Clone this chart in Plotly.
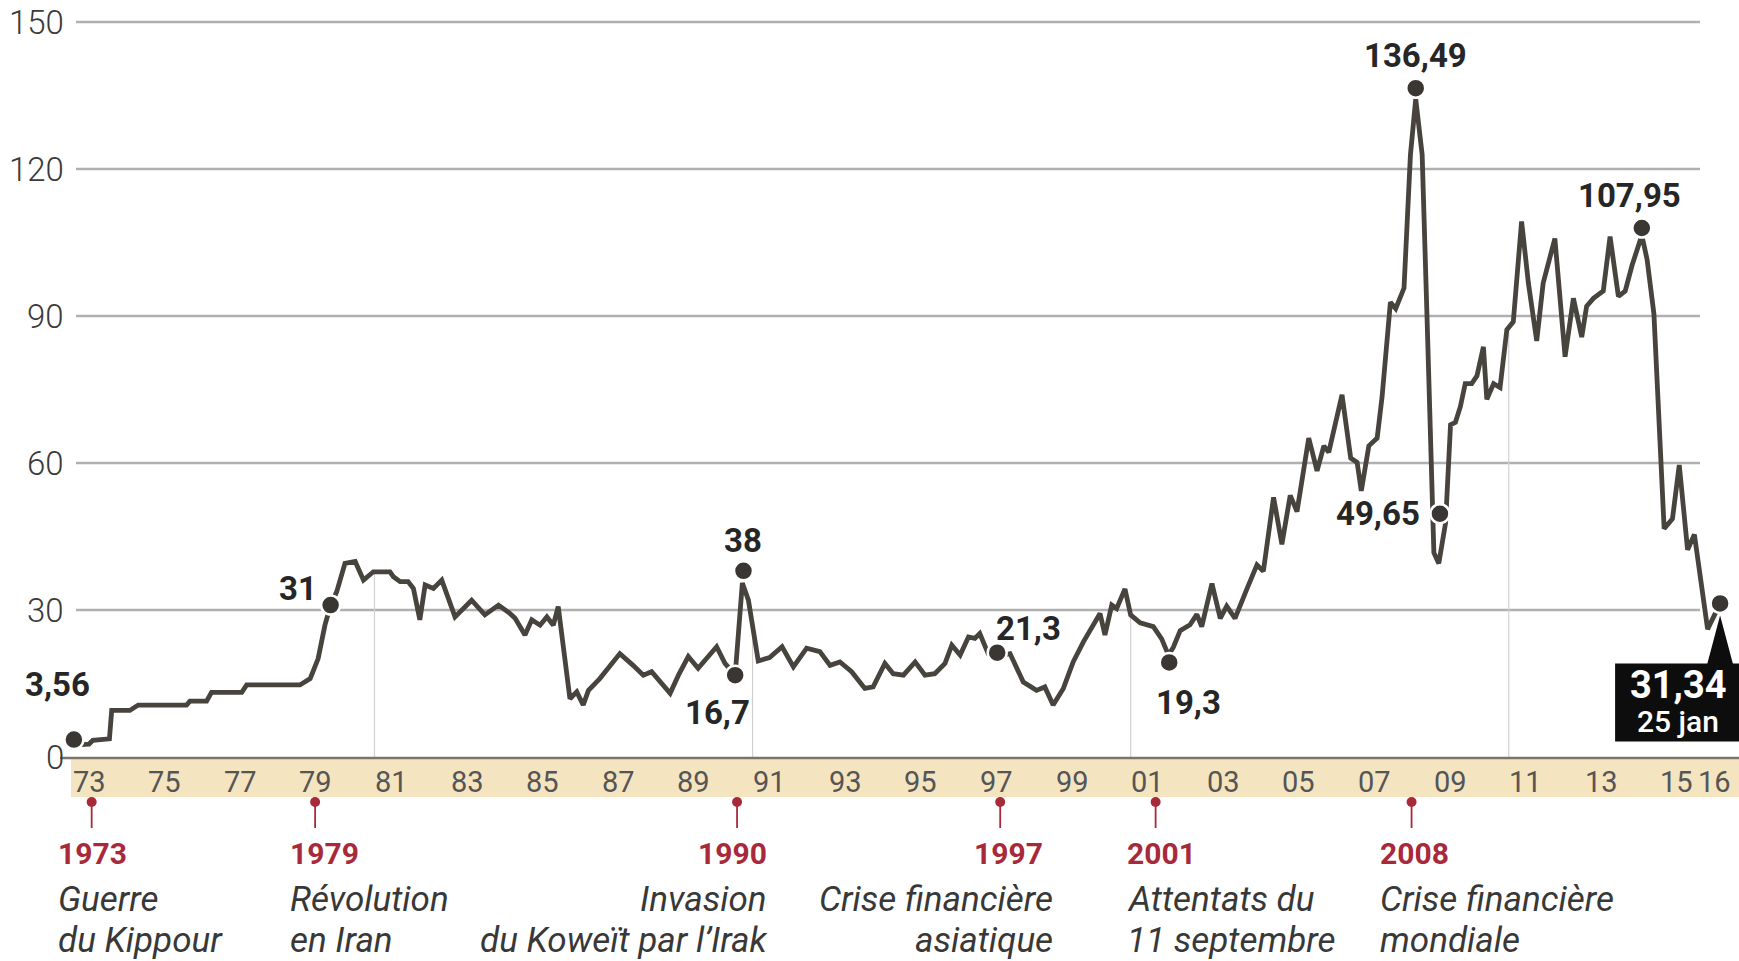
import numpy as np
import plotly.graph_objects as go

# Monthly oil price path (USD per barrel); x is the decimal year
years = [
    1973.15, 1973.50, 1973.60, 1974.04, 1974.10, 1974.58, 1974.80, 1976.08, 1976.17, 1976.61,
    1976.74, 1977.54, 1977.67, 1979.08, 1979.35, 1979.56, 1979.74, 1979.89, 1980.05, 1980.27,
    1980.54, 1980.76, 1981.02, 1981.46, 1981.55, 1981.73, 1981.94, 1982.08, 1982.25, 1982.39,
    1982.61, 1982.83, 1983.18, 1983.62, 1983.97, 1984.33, 1984.63, 1984.77, 1985.03, 1985.21,
    1985.43, 1985.61, 1985.78, 1985.91, 1986.22, 1986.40, 1986.57, 1986.71, 1987.01, 1987.23,
    1987.54, 1987.89, 1988.16, 1988.38, 1988.87, 1989.09, 1989.35, 1989.61, 1989.84, 1990.10,
    1990.32, 1990.59, 1990.78, 1990.94, 1991.20, 1991.50, 1991.83, 1992.13, 1992.48, 1992.83,
    1993.10, 1993.36, 1993.67, 1994.02, 1994.24, 1994.55, 1994.77, 1995.04, 1995.35, 1995.61,
    1995.87, 1996.14, 1996.32, 1996.54, 1996.76, 1996.93, 1997.06, 1997.28, 1997.52, 1997.86,
    1998.21, 1998.56, 1998.78, 1999.00, 1999.27, 1999.53, 1999.80, 2000.06, 2000.24, 2000.37,
    2000.55, 2000.68, 2000.90, 2001.05, 2001.30, 2001.65, 2001.87, 2002.05, 2002.18, 2002.36,
    2002.62, 2002.80, 2002.93, 2003.20, 2003.42, 2003.59, 2003.81, 2004.12, 2004.39, 2004.56,
    2004.83, 2005.05, 2005.27, 2005.45, 2005.76, 2005.98, 2006.16, 2006.29, 2006.64, 2006.87,
    2007.04, 2007.15, 2007.35, 2007.57, 2007.70, 2007.92, 2008.06, 2008.28, 2008.45, 2008.59,
    2008.76, 2008.89, 2009.07, 2009.20, 2009.38, 2009.51, 2009.64, 2009.77, 2009.90, 2010.07,
    2010.21, 2010.38, 2010.47, 2010.65, 2010.82, 2011.00, 2011.17, 2011.39, 2011.57, 2011.79,
    2011.96, 2012.27, 2012.54, 2012.76, 2012.98, 2013.11, 2013.29, 2013.55, 2013.73, 2013.95,
    2014.13, 2014.31, 2014.57, 2014.71, 2014.89, 2015.16, 2015.38, 2015.56, 2015.78, 2015.96,
    2016.31, 2016.62,
]
prices = [
    2.5, 2.6, 3.4, 3.7, 9.5, 9.5, 10.6, 10.6, 11.4, 11.4,
    13.2, 13.2, 14.7, 14.7, 16.0, 20.1, 26.9, 31.0, 33.7, 39.5,
    39.9, 36.1, 37.8, 37.8, 36.8, 35.8, 35.8, 34.4, 28.0, 35.1,
    34.4, 36.1, 28.6, 32.0, 29.0, 31.0, 29.3, 28.3, 24.9, 28.0,
    26.9, 28.6, 26.9, 30.7, 11.9, 13.3, 10.6, 13.6, 16.0, 18.1,
    21.1, 18.7, 16.7, 17.4, 13.0, 16.7, 20.5, 18.1, 20.1, 22.5,
    19.1, 16.7, 35.5, 32.0, 19.6, 20.3, 22.5, 18.4, 22.2, 21.5,
    18.7, 19.4, 17.4, 14.0, 14.3, 19.1, 17.0, 16.7, 19.4, 16.7,
    17.0, 19.1, 22.8, 20.8, 24.5, 24.2, 25.2, 21.1, 20.6, 21.1,
    15.3, 13.6, 14.3, 10.6, 14.0, 19.4, 23.5, 26.9, 29.3, 24.9,
    31.0, 30.3, 34.3, 29.0, 27.4, 26.6, 24.1, 20.8, 22.4, 25.8,
    27.0, 29.1, 26.6, 35.4, 28.3, 30.8, 28.3, 34.2, 39.2, 37.9,
    53.0, 43.4, 53.4, 50.1, 65.1, 58.4, 63.5, 62.2, 73.9, 61.0,
    60.1, 54.3, 63.5, 65.1, 73.5, 92.8, 91.5, 95.7, 122.9, 134.3,
    122.9, 89.4, 41.7, 39.5, 47.8, 67.8, 68.3, 71.5, 76.2, 76.2,
    77.8, 83.7, 73.0, 76.2, 75.4, 87.2, 88.8, 109.3, 96.7, 84.9,
    96.7, 105.8, 81.7, 93.6, 85.7, 92.0, 93.6, 95.1, 106.2, 94.0,
    95.1, 100.3, 106.5, 101.5, 90.4, 46.6, 48.6, 59.6, 42.3, 45.4,
    26.1, 31.0,
]

# Highlighted values
key_x = [1973.10, 1979.89, 1990.59, 1990.81, 1997.52, 2002.07, 2008.59, 2009.23, 2014.57]
key_val = [3.56, 31, 16.7, 38, 21.3, 19.3, 136.49, 49.65, 107.95]
# label placement around each dot: (xshift px, yshift px, xanchor)
key_label_pos = [(-16, 55, "center"), (-33, 17, "center"), (-18, -37, "center"),
                 (0, 30, "center"), (31, 24, "center"), (19, -40, "center"),
                 (0, 33, "center"), (-18, 0, "right"), (-12, 33, "center")]

last_x = 2016.64
last_val = 31.34
last_date = "25 jan"

y_ticks = [0, 30, 60, 90, 120, 150]
x_tick_years = [1973, 1975, 1977, 1979, 1981, 1983, 1985, 1987, 1989, 1991, 1993,
                1995, 1997, 1999, 2001, 2003, 2005, 2007, 2009, 2011, 2013, 2015, 2016]
decade_marks = [1981, 1991, 2001, 2011]

event_x = [1973.57, 1979.48, 1990.64, 1997.60, 2001.71, 2008.48]
event_year = ["1973", "1979", "1990", "1997", "2001", "2008"]
event_line1 = ["Guerre", "Révolution", "Invasion", "Crise financière", "Attentats du", "Crise financière"]
event_line2 = ["du Kippour", "en Iran", "du Koweït par l’Irak", "asiatique", "11 septembre", "mondiale"]
# text block alignment, horizontal offsets of the caption and of the year (px)
event_align = ["left", "left", "right", "right", "left", "left"]
event_shift = [-36, -27, 32, 55, -31, -34]
event_year_shift = [-36, -27, 32, 45, -31, -34]

FONT = "Roboto, 'Open Sans', sans-serif"
LINE_COL = "#47433d"
DOT_COL = "#3a3733"
RED = "#a82a3a"
GRID = "#b0b0b0"

W, H = 1739, 961
ML, MR, MT, MB = 72, 0, 5, 204
PX_PER_UNIT = 4.9
plot_h = H - MT - MB
plot_w = W - ML - MR


def paper_y(px):
    """Convert a pixel row of the page to paper coordinates."""
    return (H - MB - px) / plot_h


def paper_x(px):
    return (px - ML) / plot_w


def fmt(v):
    return f"{v:g}".replace(".", ",")


fig = go.Figure()

# gridlines
shapes = []
for v in y_ticks[1:]:
    shapes.append(dict(type="line", xref="paper", yref="y", x0=paper_x(76), x1=paper_x(1700),
                       y0=v, y1=v, line=dict(color=GRID, width=2.5), layer="below"))

# decade drop lines from the curve to the baseline
for d in decade_marks:
    top = float(np.interp(d + 0.05, years, prices))
    shapes.append(dict(type="line", xref="x", yref="y", x0=d + 0.05, x1=d + 0.05, y0=0, y1=top,
                       line=dict(color="#d2d2d2", width=1.2), layer="below"))

# year band under the axis and the baseline
shapes.append(dict(type="rect", xref="paper", yref="paper", x0=paper_x(71), x1=1.0,
                   y0=paper_y(797), y1=paper_y(759), fillcolor="#f4e4bf", line=dict(width=0),
                   layer="below"))
shapes.append(dict(type="line", xref="paper", yref="paper", x0=paper_x(60), x1=1.0,
                   y0=paper_y(758), y1=paper_y(758), line=dict(color="#7b746a", width=2.5)))

# event markers: small red pin under the band
for ex in event_x:
    shapes.append(dict(type="line", xref="x", yref="paper", x0=ex, x1=ex,
                       y0=paper_y(802), y1=paper_y(828), line=dict(color=RED, width=1.8)))
    shapes.append(dict(type="circle", xref="x", yref="paper", xsizemode="pixel", ysizemode="pixel",
                       xanchor=ex, yanchor=paper_y(802), x0=-5, x1=5, y0=-5, y1=5,
                       fillcolor=RED, line=dict(width=0)))

# callout box for the latest value
shapes.append(dict(type="rect", xref="x", yref="y", xsizemode="pixel", ysizemode="pixel",
                   xanchor=last_x, yanchor=last_val, x0=-105, x1=22, y0=-138, y1=-60,
                   fillcolor="#0d0d0d", line=dict(width=0)))
shapes.append(dict(type="path", xref="x", yref="y", xsizemode="pixel", ysizemode="pixel",
                   xanchor=last_x, yanchor=last_val, path="M -13,-61 L 0,-12 L 13,-61 Z",
                   fillcolor="#0d0d0d", line=dict(width=0)))

fig.add_trace(go.Scatter(x=years, y=prices, mode="lines",
                         line=dict(color=LINE_COL, width=4.8), hoverinfo="skip",
                         cliponaxis=False))
fig.add_trace(go.Scatter(x=key_x + [last_x], y=key_val + [last_val], mode="markers",
                         marker=dict(size=19, color=DOT_COL, line=dict(color="white", width=2.5)),
                         cliponaxis=False, hoverinfo="skip"))

ann = []
# value axis labels
for v in y_ticks:
    ann.append(dict(x=paper_x(66), y=v, xref="paper", yref="y", text=str(v), showarrow=False,
                    xanchor="right", yanchor="middle",
                    font=dict(family=FONT, size=33, color="#3a3a3a", weight=300)))

for x, v, (dx, dy, anc) in zip(key_x, key_val, key_label_pos):
    ann.append(dict(x=x, y=v, xref="x", yref="y", text=fmt(v), showarrow=False,
                    xshift=dx, yshift=dy, xanchor=anc, yanchor="middle",
                    font=dict(family=FONT, size=33, color="#262626", weight="bold")))

ann.append(dict(x=last_x, y=last_val, xref="x", yref="y", text=fmt(last_val), showarrow=False,
                xshift=-42, yshift=-82, xanchor="center", yanchor="middle",
                font=dict(family=FONT, size=38, color="white", weight="bold")))
ann.append(dict(x=last_x, y=last_val, xref="x", yref="y", text=last_date, showarrow=False,
                xshift=-42, yshift=-118, xanchor="center", yanchor="middle",
                font=dict(family=FONT, size=30, color="white", weight=500)))

# year labels inside the band
for yr in x_tick_years:
    ann.append(dict(x=yr + 0.5, y=paper_y(782), xref="x", yref="paper", text=f"{yr % 100:02d}",
                    showarrow=False, xanchor="center", yanchor="middle",
                    font=dict(family=FONT, size=29, color="#555555", weight=400)))

# event captions
for ex, yr, l1, l2, al, sh, ysh in zip(event_x, event_year, event_line1, event_line2,
                                       event_align, event_shift, event_year_shift):
    ann.append(dict(x=ex, y=paper_y(853), xref="x", yref="paper", text=yr, showarrow=False,
                    xanchor=al, yanchor="middle", xshift=ysh,
                    font=dict(family=FONT, size=30, color=RED, weight="bold")))
    for txt, py in ((l1, 899), (l2, 940)):
        ann.append(dict(x=ex, y=paper_y(py), xref="x", yref="paper", text=txt, showarrow=False,
                        xanchor=al, yanchor="middle", xshift=sh,
                        font=dict(family=FONT, size=35, color="#383838", style="italic")))

fig.update_layout(
    width=W, height=H,
    margin=dict(l=ML, r=MR, t=MT, b=MB),
    paper_bgcolor="white", plot_bgcolor="white",
    showlegend=False,
    shapes=shapes, annotations=ann,
    xaxis=dict(range=[1973.05, 2017.14], showgrid=False, zeroline=False, showline=False,
               showticklabels=False, ticks="", fixedrange=True),
    yaxis=dict(range=[0, plot_h / PX_PER_UNIT], showgrid=False, zeroline=False, showline=False,
               showticklabels=False, ticks="", fixedrange=True),
)

fig.write_html("out.html")
